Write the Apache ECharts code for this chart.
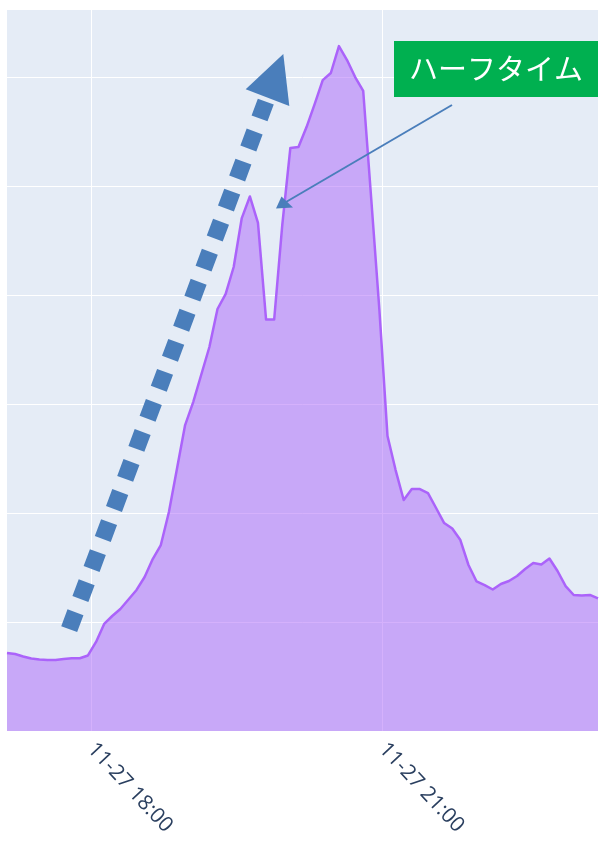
<!DOCTYPE html>
<html>
<head>
<meta charset="utf-8">
<script src="https://cdn.jsdelivr.net/npm/echarts@6/dist/echarts.min.js"></script>
<style>
  html, body { margin: 0; padding: 0; background: #ffffff; }
  #chart { width: 607px; height: 848px; }
</style>
</head>
<body>
<div id="chart"></div>
<script>
// 2022-11-27, five-minute samples
const dateStr = '2022-11-27';
const times = [
  '17:08','17:13','17:18','17:23','17:28','17:33','17:38','17:43','17:48','17:53',
  '17:58','18:03','18:08','18:13','18:18','18:23','18:28','18:33','18:38','18:43',
  '18:48','18:53','18:58','19:03','19:08','19:13','19:18','19:23','19:28','19:33',
  '19:38','19:43','19:48','19:53','19:58','20:03','20:08','20:13','20:18','20:23',
  '20:28','20:33','20:38','20:43','20:48','20:53','20:58','21:03','21:08','21:13',
  '21:18','21:23','21:28','21:33','21:38','21:43','21:48','21:53','21:58','22:03',
  '22:08','22:13','22:18','22:23','22:28','22:33','22:38','22:43','22:48','22:53',
  '22:58','23:03','23:08','23:13'
];
const counts = [
  716, 706, 683, 665, 656, 651, 651, 661, 667, 667,
  693, 817, 982, 1055, 1119, 1206, 1294, 1413, 1578, 1706,
  2009, 2408, 2807, 3018, 3271, 3523, 3872, 4009, 4257, 4706,
  4904, 4661, 3775, 3775, 4642, 5349, 5358, 5541, 5752, 5972,
  6037, 6284, 6156, 6000, 5872, 4872, 3862, 2706, 2394, 2119,
  2220, 2220, 2183, 2046, 1908, 1858, 1752, 1523, 1372, 1339,
  1298, 1349, 1376, 1422, 1486, 1541, 1528, 1583, 1468, 1330,
  1248, 1243, 1248, 1216
];
const tickTimes = ['18:00', '21:00'];
const yMax = 6615;
const yStep = 1000;
const annotationText = 'ハーフタイム';

function toTs(hm) {
  const [y, mo, d] = dateStr.split('-').map(Number);
  const [h, mi] = hm.split(':').map(Number);
  return new Date(y, mo - 1, d, h, mi).getTime();
}
const seriesData = times.map((t, i) => [toTs(t), counts[i]]);
const tickValues = tickTimes.map(toTs);

const blue = '#4a7ebb';
const chart = echarts.init(document.getElementById('chart'), null, { renderer: 'canvas' });
chart.setOption({
  animation: false,
  backgroundColor: '#ffffff',
  grid: {
    left: 7, right: 9, top: 10, bottom: 117,
    show: true, backgroundColor: '#e5ecf6', borderWidth: 0
  },
  xAxis: {
    type: 'value',
    min: toTs(times[0]),
    max: toTs(times[times.length - 1]),
    axisLine: { show: false },
    axisTick: { show: false, customValues: tickValues },
    splitLine: { show: false },
    axisLabel: {
      customValues: tickValues,
      rotate: -47,
      margin: 15,
      fontSize: 21,
      fontFamily: 'Open Sans',
      color: '#2a3f5f',
      formatter: function (v) {
        return echarts.time.format(v, '{MM}-{dd} {HH}:{mm}', false);
      }
    }
  },
  yAxis: {
    type: 'value',
    min: 0, max: yMax, interval: yStep,
    axisLine: { show: false },
    axisTick: { show: false },
    axisLabel: { show: false },
    splitLine: { show: true, showMaxLine: false,
                 lineStyle: { color: '#ffffff', width: 1 } }
  },
  series: [
    {
      // vertical grid lines at the labelled hours, kept beneath the area
      type: 'line',
      data: [],
      silent: true,
      z: 0,
      markLine: {
        z: 0,
        silent: true,
        symbol: 'none',
        label: { show: false },
        lineStyle: { color: '#ffffff', width: 1, type: 'solid', opacity: 1 },
        emphasis: { disabled: true },
        data: tickValues.map(v => ({ xAxis: v }))
      }
    },
    {
      type: 'line',
      data: seriesData,
      showSymbol: false,
      symbol: 'none',
      lineStyle: { color: '#ab63fa', width: 2.5, join: 'round' },
      areaStyle: { color: '#ab63fa', opacity: 0.5 },
      z: 3
    }
  ],
  graphic: [
    // dotted rising-trend arrow
    {
      type: 'polyline', z: 10,
      shape: { points: [[69.2, 629.1], [265.8, 101.6]] },
      style: { stroke: blue, lineWidth: 17, lineDash: [18, 14.06], lineCap: 'butt', fill: null }
    },
    {
      type: 'polygon', z: 10,
      shape: { points: [[283.3, 54], [245.7, 89.3], [289.3, 106]] },
      style: { fill: blue }
    },
    // pointer to the half-time dip
    {
      type: 'polyline', z: 10,
      shape: { points: [[452, 105], [286, 202]] },
      style: { stroke: blue, lineWidth: 2, fill: null }
    },
    {
      type: 'polygon', z: 10,
      shape: { points: [[276, 208.5], [281.5, 196.5], [293, 207.5]] },
      style: { fill: blue }
    },
    // label box
    {
      type: 'rect', z: 10,
      shape: { x: 394, y: 41, width: 204, height: 56 },
      style: { fill: '#00b050' }
    },
    {
      type: 'text', z: 11,
      x: 496, y: 69,
      style: {
        text: annotationText,
        fill: '#ffffff',
        fontSize: 29,
        fontFamily: 'Noto Sans CJK JP',
        align: 'center',
        verticalAlign: 'middle'
      }
    }
  ]
});
</script>
</body>
</html>
